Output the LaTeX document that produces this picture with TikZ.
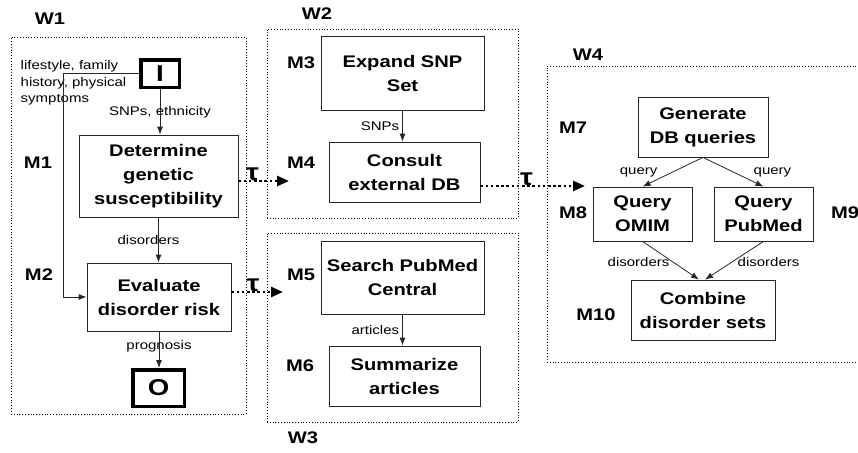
\documentclass[tikz,border=0pt]{standalone}
\usepackage{fontspec}
\setmainfont{Liberation Sans}[FakeStretch=1.2]
\usetikzlibrary{arrows.meta}

\begin{document}
\begin{tikzpicture}[x=1pt, y=-1pt, >={Latex[length=8pt,width=6pt]},
                    font=\fontsize{12.5}{16.5}\selectfont]
  \tikzstyle{box}  = [draw=black!85, line width=0.8pt, inner sep=0pt, align=center,
                      font=\fontsize{16.8}{24}\selectfont\bfseries]
  \tikzstyle{io}   = [draw=black, line width=3.5pt, inner sep=0pt,
                      font=\fontsize{23}{23}\selectfont\bfseries]
  \tikzstyle{win}  = [draw=black, line width=0.8pt, dotted, inner sep=0pt]
  \tikzstyle{lbl}  = [inner sep=1pt, font=\fontsize{12.5}{16.5}\selectfont]
  \tikzstyle{tag}  = [inner sep=0pt, font=\fontsize{16.8}{16.8}\selectfont\bfseries]
  \tikzstyle{flow} = [->, draw=black!85, line width=0.8pt]
  \tikzstyle{hop}  = [line width=2.6pt, dash pattern=on 2.6pt off 2.6pt,
                      -{Triangle[length=12pt,width=10pt]}]
  \tikzstyle{tau}  = [above=-1.5pt, inner sep=0pt, font=\fontsize{24}{24}\selectfont\bfseries]

  \useasboundingbox (0,0) rectangle (858,452);
  \clip (0,0) rectangle (858,452);

  % workers
  \node[win, minimum width=235, minimum height=377] (w1) at (128.5,225.5) {};
  \node[win, minimum width=251, minimum height=189] (w2) at (392.5,123.5) {};
  \node[win, minimum width=251, minimum height=189] (w3) at (392.5,327.5) {};
  \node[win, minimum width=323, minimum height=296] (w4) at (708.5,214) {};
  \node[tag] (w1lab) at (50,19)  {W1};
  \node[tag] (w2lab) at (317,14) {W2};
  \node[tag] (w3lab) at (303,438) {W3};
  \node[tag] (w4lab) at (588,55) {W4};

  % W1
  \node[io, minimum width=38.5, minimum height=27.5] (in) at (160,73.5) {I};
  \node[box, minimum width=159, minimum height=82] (det) at (158.5,176)
       {Determine\\genetic\\susceptibility};
  \node[box, minimum width=144, minimum height=68] (eval) at (159,297)
       {Evaluate\\disorder risk};
  \node[io, minimum width=51.5, minimum height=36.5] (out) at (158.5,388) {O};
  \node[lbl, align=left, anchor=west] (life) at (19.5,83)
       {lifestyle, family\\history, physical\\symptoms};
  \node[tag] (m1) at (38,163) {M1};
  \node[tag] (m2) at (39,275) {M2};

  \draw[flow] (in.south) -- (in.south |- det.north)
       node[lbl, midway] {SNPs, ethnicity};
  \draw[flow] (in.west) -- ++(-76,0) |- (eval.west);
  \draw[flow] (det.south) -- (det.south |- eval.north)
       node[lbl, midway, xshift=-10pt] {disorders};
  \draw[flow] (eval.south) -- (eval.south |- out.north)
       node[lbl, midway, yshift=3.5pt] {prognosis};

  % W2
  \node[box, minimum width=163, minimum height=74] (exp) at (402.5,73)
       {Expand SNP\\Set};
  \node[box, minimum width=151, minimum height=60] (cons) at (404.5,172)
       {Consult\\external DB};
  \node[tag] (m3) at (301,63)  {M3};
  \node[tag] (m4) at (301,163) {M4};
  \draw[flow] (exp.south) -- (exp.south |- cons.north)
       node[lbl, midway, left=2pt] {SNPs};

  % W3
  \node[box, minimum width=163, minimum height=73] (srch) at (402.5,277.5)
       {Search PubMed\\Central};
  \node[box, minimum width=151, minimum height=60] (summ) at (404.5,376)
       {Summarize\\articles};
  \node[tag] (m5) at (301,275) {M5};
  \node[tag] (m6) at (300,366) {M6};
  \draw[flow] (srch.south) -- (srch.south |- summ.north)
       node[lbl, midway, left=2pt] {articles};

  % W4
  \node[box, minimum width=130, minimum height=60] (gen) at (703,127)
       {Generate\\DB queries};
  \node[box, minimum width=99, minimum height=54] (omim) at (642.5,214)
       {Query\\OMIM};
  \node[box, minimum width=99, minimum height=54] (pub) at (763.5,214)
       {Query\\PubMed};
  \node[box, minimum width=144, minimum height=60] (comb) at (703,310)
       {Combine\\disorder sets};
  \node[tag] (m7)  at (573,128) {M7};
  \node[tag] (m8)  at (573,213) {M8};
  \node[tag] (m9)  at (845,213) {M9};
  \node[tag] (m10) at (596,315) {M10};
  \draw[flow] (gen.south) -- (omim.north) node[lbl, midway, left=14pt] {query};
  \draw[flow] (gen.south) -- (pub.north) node[lbl, midway, right=19pt] {query};
  \draw[flow] (omim.south) -- ([xshift=-4pt]comb.north)
       node[lbl, midway, left, yshift=-2pt] {disorders};
  \draw[flow] (pub.south) -- ([xshift=2pt]comb.north)
       node[lbl, midway, right=2pt, yshift=-2pt] {disorders};

  % tau links between workers
  \coordinate (t1) at (289,181);
  \coordinate (t2) at (283,292);
  \coordinate (t3) at (585,186);
  \draw[hop] (det.east |- t1) -- (t1) node[tau, pos=0.28] {τ};
  \draw[hop] (eval.east |- t2) -- (t2) node[tau, pos=0.42] {τ};
  \draw[hop] (cons.east |- t3) -- (t3) node[tau, pos=0.44] {τ};
\end{tikzpicture}
\end{document}
